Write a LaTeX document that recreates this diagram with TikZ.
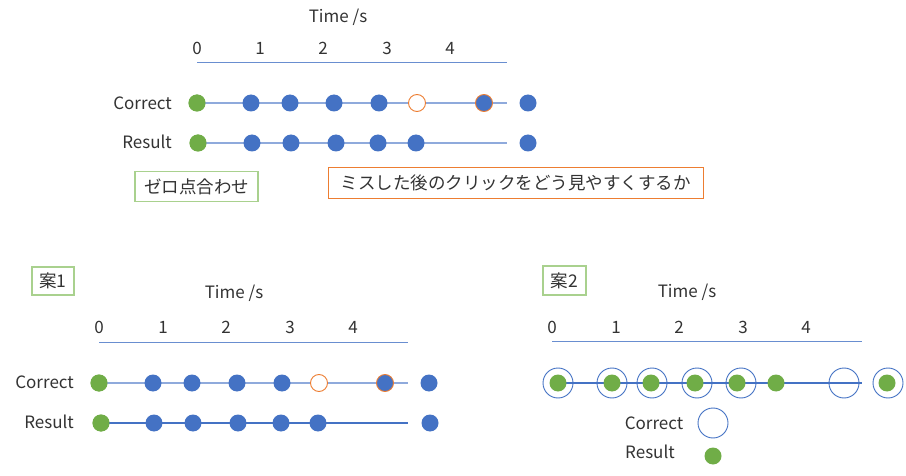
\documentclass[tikz,border=0pt]{standalone}
\usepackage{fontspec}
\setmainfont{Noto Sans CJK JP}
\definecolor{myblue}{HTML}{4472C4}
\definecolor{lblue}{HTML}{8FAADC}
\definecolor{mygreen}{HTML}{70AD47}
\definecolor{lgreen}{HTML}{A9D18E}
\definecolor{myorange}{HTML}{ED7D31}
\definecolor{txt}{HTML}{333333}
\begin{document}
\begin{tikzpicture}[x=1pt,y=-1pt,
  lab/.style={text=txt,font=\fontsize{17}{19}\selectfont,inner sep=0},
  bdot/.style={circle,fill=myblue,minimum size=17pt,inner sep=0},
  gdot/.style={circle,fill=mygreen,minimum size=17pt,inner sep=0},
  odot/.style={circle,draw=myorange,fill=white,minimum size=17pt,inner sep=0,line width=0.9pt},
  bodot/.style={circle,draw=myorange,fill=myblue,minimum size=17pt,inner sep=0,line width=0.9pt},
  ring/.style={circle,draw=myblue,minimum size=30pt,inner sep=0,line width=0.9pt},
  axis/.style={draw=myblue!80,line width=1pt},
  rowline/.style={draw=lblue,line width=1.6pt},
  rowdark/.style={draw=myblue,line width=1.1pt},
  gbox/.style={draw=lgreen,line width=1.2pt,text=txt,font=\fontsize{17.5}{19}\selectfont,inner sep=0},
  obox/.style={draw=myorange,line width=1pt,text=txt,font=\fontsize{17.5}{19}\selectfont,inner sep=0}]
\useasboundingbox[fill=white] (0,0) rectangle (906,476);

% ---------- top section ----------
\node[lab] (t1) at (338,17) {Time /s};
\foreach \x/\n in {197/0,260/1,323/2,387/3,450/4}
  \node[lab] (t1n\n) at (\x,48) {\n};
\coordinate (a1s) at (197,63);
\coordinate (a1e) at (507,63);
\draw[axis] (a1s) -- (a1e);

\node[lab,anchor=east] (c1lab) at (172,103) {Correct};
\node[lab,anchor=east] (r1lab) at (172,142) {Result};
\coordinate (c1e) at (507,103);
\coordinate (r1e) at (507,143);

\node[gdot] (c1a) at (197,103) {};
\draw[rowline] (c1a.center) -- (c1e);
\node[gdot] (c1a) at (197,103) {};
\foreach \x/\n in {251/b,290/c,334/d,379/e}
  \node[bdot] (c1\n) at (\x,103) {};
\node[odot] (c1f) at (417,103) {};
\node[bodot] (c1g) at (484,103) {};
\node[bdot] (c1h) at (528,103) {};

\node[gdot] (r1a) at (198,143) {};
\draw[rowline] (r1a.center) -- (r1e);
\node[gdot] (r1a) at (198,143) {};
\foreach \x/\n in {252/b,291/c,336/d,378/e,416/f}
  \node[bdot] (r1\n) at (\x,143) {};
\node[bdot] (r1h) at (528,143) {};

\node[gbox,minimum width=123pt,minimum height=30pt] (zero) at (196.5,186.5) {ゼロ点合わせ};
\node[obox,minimum width=375pt,minimum height=31pt] (miss) at (515.5,183) {ミスした後のクリックをどう見やすくするか};

% ---------- 案1 ----------
\node[gbox,minimum width=42pt,minimum height=28pt] (an1) at (53,281) {案1};
\node[lab] (t2) at (234,293) {Time /s};
\foreach \x/\n in {99/0,163/1,226/2,290/3,353/4}
  \node[lab] (t2n\n) at (\x,327) {\n};
\coordinate (a2s) at (99,342);
\coordinate (a2e) at (408,342);
\draw[axis] (a2s) -- (a2e);

\node[lab,anchor=east] (c2lab) at (74,382) {Correct};
\node[lab,anchor=east] (r2lab) at (74,422) {Result};
\coordinate (c2e) at (408,383);
\coordinate (r2e) at (408,423);

\node[gdot] (c2a) at (99,383) {};
\draw[rowline] (c2a.center) -- (c2e);
\node[gdot] (c2a) at (99,383) {};
\foreach \x/\n in {153/b,192/c,237/d,282/e}
  \node[bdot] (c2\n) at (\x,383) {};
\node[odot] (c2f) at (319,383) {};
\node[bodot] (c2g) at (385,383) {};
\node[bdot] (c2h) at (429,383) {};

\node[gdot] (r2a) at (101,423) {};
\draw[rowdark] (r2a.center) -- (r2e);
\node[gdot] (r2a) at (101,423) {};
\foreach \x/\n in {154/b,193/c,238/d,281/e,318/f}
  \node[bdot] (r2\n) at (\x,423) {};
\node[bdot] (r2h) at (430,423) {};

% ---------- 案2 ----------
\node[gbox,minimum width=43pt,minimum height=29pt] (an2) at (564.5,280.5) {案2};
\node[lab] (t3) at (687,292) {Time /s};
\foreach \x/\n in {552/0,616/1,679/2,743/3,806/4}
  \node[lab] (t3n\n) at (\x,327) {\n};
\coordinate (a3s) at (552,341);
\coordinate (a3e) at (862,341);
\draw[axis] (a3s) -- (a3e);

\coordinate (l3e) at (862,383);
\node[ring] (k1) at (558,383) {};
\draw[rowdark] (k1.center) -- (l3e);
\foreach \x/\n in {612/2,652/3,697/4,741/5,844/7,888/8}
  \node[ring] (k\n) at (\x,383) {};
\foreach \x/\n in {558/1,612/2,651/3,695/4,737/5,776/6,887/8}
  \node[gdot] (g\n) at (\x,383) {};

\node[lab] (leg1) at (654,423) {Correct};
\node[ring] (legc) at (713,423) {};
\node[lab] (leg2) at (650,452) {Result};
\node[gdot] (legr) at (713,456) {};
\end{tikzpicture}
\end{document}
